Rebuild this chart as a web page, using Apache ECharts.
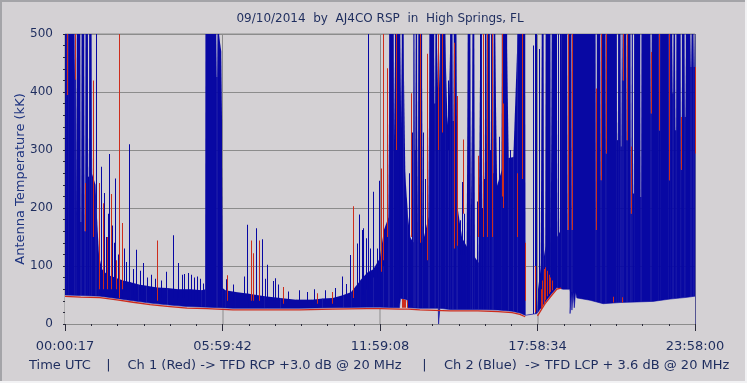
<!DOCTYPE html>
<html><head><meta charset="utf-8">
<script src="https://cdn.jsdelivr.net/npm/echarts@6/dist/echarts.min.js"></script>
<style>html,body{margin:0;padding:0;background:#d4d1d4}#c{width:747px;height:383px}</style>
</head><body><div id="c"></div>
<script>
// ---- data (time in hours from start, antenna temperature in kK) ----
const timeLabels = ['00:00:17', '05:59:42', '11:59:08', '17:58:34', '23:58:00'];
const yTicks = [0, 100, 200, 300, 400, 500];

// upper envelope of the dense blue (Ch 2) trace
const blueFill = [[0,500],[1.0,500],[1.02,260],[1.15,240],[1.2,200],[1.28,120],[1.4,95],[1.6,85],[1.9,80],[2.2,75],[2.5,72],[2.8,68],[3.1,66],[3.5,63],[3.9,62],[4.3,60],[4.8,60],[5.2,58],[5.34,60],[5.35,500],[5.86,500],[5.94,470],[5.97,350],[6.0,62],[6.1,58],[6.5,55],[7.0,52],[7.6,48],[8.2,45],[8.8,42],[9.4,42],[9.8,44],[10.2,45],[10.6,50],[10.9,55],[11.24,75],[11.49,88],[11.75,95],[12.0,115],[12.13,160],[12.32,185],[12.35,500],[12.51,500],[12.53,300],[12.57,500],[12.76,500],[12.8,334],[12.83,500],[12.89,500],[12.95,266],[13.04,197],[13.14,150],[13.27,140],[13.27,500],[13.40,500],[13.42,139],[13.46,500],[13.59,500],[13.62,139],[13.84,185],[13.88,500],[14.16,500],[14.22,360],[14.29,500],[14.48,500],[14.55,360],[14.60,334],[14.67,500],[14.90,500],[14.95,202],[15.11,150],[15.30,133],[15.34,500],[15.43,500],[15.45,125],[15.52,500],[15.58,500],[15.6,116],[15.75,105],[15.81,500],[16.04,500],[16.08,170],[16.11,500],[16.38,500],[16.45,237],[16.63,266],[16.64,500],[16.83,500],[16.89,286],[17.08,288],[17.23,500],[17.52,500],[17.53,15],[17.97,18],[17.99,19],[18.02,60],[18.12,100],[18.16,500],[18.22,500],[18.24,115],[18.3,135],[18.31,500],[18.48,500],[18.5,140],[18.54,500],[18.73,500],[18.75,150],[18.85,160],[18.9,500],[24,500]];

// thin light gaps where the blue trace drops inside its dense part: [time, blue level]
const blueGaps = [[0.09,395],[0.38,421],[0.42,188],[0.60,176],[0.75,160],[0.89,254],[5.78,426],[13.33,300],[14.08,380],[14.78,350],[15.9,200],[15.97,250],[16.2,300],[16.3,260],
[19.15,162],[19.31,162],[20.23,162],[20.41,248],[20.61,294],[21.04,317],[21.18,306],[21.25,420],[21.40,317],[21.56,190],[21.65,225],[21.93,219],[22.32,363],[22.64,334],[23.02,248],[23.15,398],[23.26,334],[23.47,266],[23.62,357],[23.84,443],[23.96,443]];

// lower edge of the blue trace
const blueFloor = [[0,50],[0.6,49],[1.33,48],[1.98,44],[2.59,40],[3.24,36],[3.89,33],[4.65,30],[5.41,29],[6.4,27],[7.7,27],[8.95,27],[10.2,28],[11.5,29],[12.0,29],[12.74,28],[12.78,44],[13.03,42],[13.07,28],[13.52,27],[14.67,25],[15.73,25],[16.5,24],[17.03,22],[17.33,19],[17.53,15],[17.98,18],[18.02,19],[18.29,38],[18.55,53],[18.74,63],[18.97,60],[19.24,55],[19.5,45],[20.0,41],[20.5,35],[21.14,37],[21.79,38],[22.4,39],[23.05,43],[23.7,46],[24,48]];

// blue samples that dip below the lower edge: [time, lowest value]
const blueDips = [[14.25,0],[19.26,18],[19.33,24],[19.42,28]];

// lower edge of the red trace (Ch 1)
const redFloor = [[0,47.5],[0.6,46.5],[1.33,45.5],[1.98,41.5],[2.59,37.5],[3.24,33.5],[3.89,30.5],[4.65,27.5],[5.41,26.5],[6.4,24.5],[7.7,24.5],[8.95,24.5],[10.2,25.5],[11.5,26.5],[12.0,26.5],[12.74,25.5],[13.07,25.5],[13.52,24.5],[14.67,22.5],[15.73,22.5],[16.5,21.5],[17.03,19.5],[17.33,16.5],[17.53,12.5],[17.7,'-'],[18.0,14],[18.05,17],[18.29,35],[18.55,50],[18.74,60],[18.9,62]];

// single blue spikes: [time, top, base]
const blueSpikes = [[1.17,500,200],[1.3,180,60],[1.38,271,60],[1.45,160,60],[1.50,226,60],[1.58,150,60],[1.62,190,60],[1.69,293,60],[1.78,170,60],[1.85,140,60],[1.92,251,60],[2.0,120,60],[2.07,199,60],[2.16,99,55],[2.25,130,55],[2.32,107,55],[2.45,310,55],[2.59,95,50],[2.70,128,50],[2.86,92,50],[2.98,105,50],[3.12,80,50],[3.28,85,45],[3.43,78,45],[3.66,75,45],[3.85,90,45],[4.13,153,45],[4.32,105,45],[4.46,85,45],[4.54,86,45],[4.69,88,40],[4.79,85,40],[4.91,80,40],[5.03,82,40],[5.14,78,40],[5.26,70,40],
[6.12,77,40],[6.40,68,40],[6.83,82,40],[6.94,171,40],[7.29,165,40],[7.52,146,40],[7.62,78,40],[7.71,102,40],[7.94,74,40],[8.01,79,40],[8.13,68,40],[8.5,56,35],[8.9,58,35],[9.2,55,35],[9.5,60,35],[9.9,58,35],[10.3,62,35],
[10.56,82,40],[10.7,69,40],[10.86,119,45],[11.11,139,50],[11.21,189,50],[11.30,162,50],[11.36,165,50],[11.47,148,60],[11.55,500,60],[11.62,130,70],[11.74,228,80],[11.87,130,80],[11.97,247,90],[12.10,283,100],
[13.1,260,140],[13.2,330,140],[13.65,330,130],[13.72,250,130],[14.58,420,300],[15.05,179,120],[15.14,245,120],[15.21,190,120],[15.55,124,100],[15.68,211,100],[16.45,172,150],[16.55,323,150],[16.95,300,250],[17.14,300,250],
[17.84,480,16],[17.90,500,17],[17.95,500,18],[18.07,474,25],[18.77,500,150],[18.86,500,150]];

// red spikes: [time, top, base]
const redSpikes = [[0.09,500,395],[0.38,500,421],[0.75,243,160],[1.08,420,150],[1.31,243,60],[1.43,208,60],[1.59,150,60],[1.74,224,60],[1.94,110,60],[2.07,500,45],[2.16,174,60],[3.52,144,40],
[6.18,84,40],[7.07,144,40],[7.17,122,40],[7.39,144,40],[8.32,64,35],[9.59,53,35],[10.16,55,35],[10.97,203,45],
[12.04,268,90],[12.13,500,110],[12.25,441,150],[12.61,500,300],[12.82,43,28],[12.87,43,28],[12.92,42,28],[12.97,42,28],[13.02,41,28],[13.18,398,150],[13.52,500,140],[13.80,466,110],[14.22,500,300],[14.35,500,330],[14.83,485,130],[14.92,393,135],[15.17,318,190],[15.75,290,150],[15.94,500,150],[16.06,500,150],[16.25,500,150],[16.64,500,220],[16.67,380,200],[17.2,260,150],[17.40,500,250],[17.53,140,40],[17.9,100,20],
[18.12,60,25],[18.18,75,30],[18.24,95,35],[18.3,98,42],[18.36,92,48],[18.42,85,52],[18.48,80,55],[18.55,75,58],
[19.15,500,162],[19.31,500,162],[20.23,406,162],[20.41,500,248],[20.61,500,294],[20.89,47,37],[21.21,46,37],[21.25,500,420],[21.40,500,317],[21.56,306,190],[22.32,469,363],[22.64,500,334],[23.02,500,248],[23.47,357,266],[23.99,443,294]];

// ---- styling ----
const BG = '#d4d1d4';
const BLUE = '#0707a3';
const RED = '#cd2c1c';
const TXT = '#1e2d5e';
const GRIDC = '#8c8c8c';
const FONT = '"DejaVu Sans", Verdana, sans-serif';
const yMin = yTicks[0], yMax = yTicks[yTicks.length - 1];
const xMax = 24, xStep = 6;

// cut thin notches (about one pixel wide) into a polyline at the given times
const NOTCH = 0.03, NOTCH_IN = 0.019;
function isNotchInner(p, notches) {
  return notches.some(g => Math.abs(Math.abs(p[0] - g[0]) - NOTCH_IN) < 1e-9 && p[1] === g[1]);
}
function withNotches(line, notches, edgeValue) {
  const out = line.map(p => p.slice());
  notches.forEach(g => {
    const edge = edgeValue !== undefined ? edgeValue : null;
    out.push([g[0] - NOTCH, edge], [g[0] - NOTCH_IN, g[1]], [g[0] + NOTCH_IN, g[1]], [g[0] + NOTCH, edge]);
  });
  out.sort((a, b) => a[0] - b[0]);
  for (let i = 0; i < out.length; i++) {
    if (out[i][1] === null) {
      let j = i - 1; while (j >= 0 && (out[j][1] === null || isNotchInner(out[j], notches))) j--;
      out[i][1] = j >= 0 ? out[j][1] : line[0][1];
    }
  }
  return out;
}
const blueEnvelope = withNotches(blueFill, blueGaps, yMax);
const blueLower = withNotches(blueFloor, blueDips);

// lower edge of the blue trace at a time (to restore the vertical grid lines under it)
function floorAt(h) {
  for (let i = 1; i < blueFloor.length; i++) {
    const p = blueFloor[i - 1], q = blueFloor[i];
    if (h <= q[0]) return p[1] + (q[1] - p[1]) * (h - p[0]) / (q[0] - p[0]);
  }
  return blueFloor[blueFloor.length - 1][1];
}
const innerTicks = [];
for (let v = xStep; v < xMax; v += xStep) innerTicks.push([v]);

// blue mass drawn as one small polygon per envelope segment
const OVER = 0.35;
function fillRender(params, api) {
  const i = params.dataIndex;
  if (i >= blueEnvelope.length - 1) return null;
  const p = blueEnvelope[i], q = blueEnvelope[i + 1];
  const a = api.coord(p), b = api.coord(q), c = api.coord([q[0], yMin]), d = api.coord([p[0], yMin]);
  return { type: 'polygon', shape: { points: [[a[0], a[1]], [b[0] + OVER, b[1]], [c[0] + OVER, c[1]], [d[0], d[1]]] },
           style: { fill: BLUE, opacity: 0.995 } };
}
function spikeRender(color) {
  return function (params, api) {
    const h = api.value(0), top = api.value(1), base = api.value(2);
    const a = api.coord([h, base]), b = api.coord([h, top]);
    const y1 = Math.min(a[1], b[1]), y2 = Math.max(a[1], b[1]);
    return { type: 'rect', shape: { x: Math.round(a[0]), y: y1, width: 1, height: y2 - y1 }, style: { fill: color } };
  };
}
function gridFixRender(params, api) {
  const h = api.value(0);
  const a = api.coord([h, yMin]), b = api.coord([h, floorAt(h) - 1]);
  return { type: 'rect', shape: { x: Math.round(a[0]) - 0.5, y: b[1], width: 1, height: a[1] - b[1] }, style: { fill: GRIDC } };
}

const chart = echarts.init(document.getElementById('c'), null, { renderer: 'canvas' });
chart.setOption({
  animation: false,
  backgroundColor: BG,
  grid: { left: 65, right: 52, top: 34, bottom: 59, show: true, borderColor: GRIDC, borderWidth: 1, backgroundColor: BG },
  xAxis: {
    type: 'value', min: 0, max: xMax, interval: xStep, offset: 5,
    axisLine: { show: false },
    axisTick: { show: true, length: 7, lineStyle: { color: '#2a2a3a' } },
    minorTick: { show: true, splitNumber: 6, length: 2, lineStyle: { color: '#2a2a3a' } },
    splitLine: { show: true, lineStyle: { color: GRIDC, width: 1 } },
    axisLabel: { margin: 11, color: TXT, fontSize: 13, fontFamily: FONT,
      formatter: v => timeLabels[Math.round(v / xStep)] || '' }
  },
  yAxis: {
    type: 'value', min: yMin, max: yMax, interval: yTicks[1] - yTicks[0], offset: 5,
    name: 'Antenna Temperature (kK)', nameLocation: 'middle', nameGap: 33, nameMoveOverlap: false,
    nameTextStyle: { color: '#1f3580', fontSize: 13, fontFamily: FONT },
    axisLine: { show: false },
    axisTick: { show: true, length: 2, lineStyle: { color: '#2a2a3a' } },
    minorTick: { show: true, splitNumber: 5, length: 2, lineStyle: { color: '#2a2a3a' } },
    splitLine: { show: true, lineStyle: { color: GRIDC, width: 1 } },
    axisLabel: { margin: 7, color: TXT, fontSize: 12, fontFamily: FONT }
  },
  series: [
    { type: 'custom', data: blueEnvelope, z: 2, silent: true, clip: false, renderItem: fillRender },
    { type: 'custom', data: blueSpikes, z: 2, silent: true, clip: false, renderItem: spikeRender(BLUE) },
    { type: 'line', data: blueLower, z: 3, silent: true, showSymbol: false,
      lineStyle: { width: 0.6, color: BLUE }, areaStyle: { color: BG, opacity: 1, origin: 'start' } },
    { type: 'custom', data: innerTicks, z: 4, silent: true, clip: false, renderItem: gridFixRender },
    { type: 'custom', data: redSpikes, z: 5, silent: true, clip: false, renderItem: spikeRender(RED) },
    { type: 'line', data: redFloor, z: 6, silent: true, showSymbol: false, connectNulls: false,
      lineStyle: { color: RED, width: 1.3 } }
  ],
  graphic: [
    { type: 'rect', z: 100, shape: { x: 0, y: 0, width: 747, height: 2 }, style: { fill: '#a4a4a8' } },
    { type: 'rect', z: 100, shape: { x: 0, y: 0, width: 2, height: 383 }, style: { fill: '#a4a4a8' } },
    { type: 'rect', z: 100, shape: { x: 745, y: 0, width: 2, height: 383 }, style: { fill: '#f2f2f4' } },
    { type: 'rect', z: 100, shape: { x: 0, y: 381, width: 747, height: 2 }, style: { fill: '#f2f2f4' } },
    { type: 'text', z: 100, x: 380, y: 18.5, style: { text: '09/10/2014  by  AJ4CO RSP  in  High Springs, FL', fill: TXT, font: '12px ' + FONT, align: 'center', verticalAlign: 'middle' } },
    { type: 'text', z: 100, x: 29, y: 366, style: { text: 'Time UTC', fill: TXT, font: '13px ' + FONT, align: 'left', verticalAlign: 'middle' } },
    { type: 'text', z: 100, x: 108.5, y: 366, style: { text: '|', fill: TXT, font: '13px ' + FONT, align: 'center', verticalAlign: 'middle' } },
    { type: 'text', z: 100, x: 127.5, y: 366, style: { text: 'Ch 1 (Red) -> TFD RCP +3.0 dB @ 20 MHz', fill: TXT, font: '13px ' + FONT, align: 'left', verticalAlign: 'middle' } },
    { type: 'text', z: 100, x: 424.5, y: 366, style: { text: '|', fill: TXT, font: '13px ' + FONT, align: 'center', verticalAlign: 'middle' } },
    { type: 'text', z: 100, x: 444, y: 366, style: { text: 'Ch 2 (Blue)  -> TFD LCP + 3.6 dB @ 20 MHz', fill: TXT, font: '13px ' + FONT, align: 'left', verticalAlign: 'middle' } }
  ]
});
</script></body></html>
